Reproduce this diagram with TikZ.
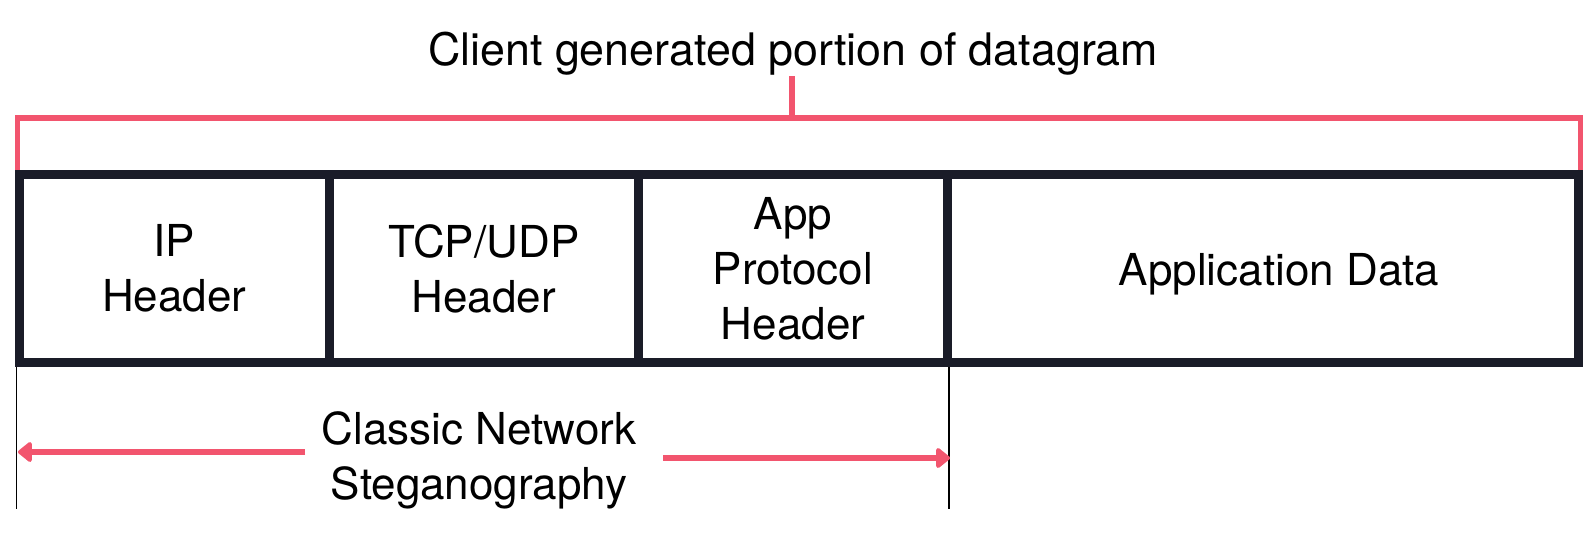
\documentclass[tikz,border=0pt]{standalone}
\usepackage{fontspec}
\setmainfont{TeX Gyre Heros}
\usetikzlibrary{arrows.meta}
\definecolor{pinkc}{RGB}{242,85,110}
\definecolor{darkc}{RGB}{26,28,40}
\begin{document}
\begin{tikzpicture}[x=0.5pt,y=-0.5pt,
  txt/.style={font=\fontsize{22}{27.5}\selectfont, align=center, inner sep=0pt},
  cell/.style={draw=darkc, line width=4.5pt, minimum height=94pt, inner sep=0pt, outer sep=0pt,
    font=\fontsize{22}{27.5}\selectfont, align=center},
  brk/.style={draw=pinkc, line width=2.75pt},
  arr/.style={draw=pinkc, line width=3pt, -{Triangle[length=7.5pt,width=11.5pt,round]}},
  guide/.style={draw=black, line width=0.85pt}]
\fill[white] (0,0) rectangle (1596,558);
% cells
\node[cell, minimum width=154.75pt] (ip)   at (174.25,268.5) {IP\\Header};
\node[cell, minimum width=154.75pt] (tcp)  at (483.75,268.5) {TCP/UDP\\Header};
\node[cell, minimum width=154.5pt]  (app)  at (793,268.5)    {App\\Protocol\\Header};
\node[cell, minimum width=315.5pt]  (data) at (1263,268.5)   {};
\node[txt, anchor=base] (datatxt) at (1279,285) {Application Data};
% title and bracket
\node[txt, anchor=base] (title) at (793,65) {\fontsize{22.4}{27.5}\selectfont Client generated portion of datagram};
\coordinate (stemtop) at (792,76);
\coordinate (stembot) at (792,118);
\draw[brk] (17.5,170) -- (17.5,118) -- (1580.5,118) -- (1580.5,170);
\draw[brk] (stembot) -- (stemtop);
% guides
\coordinate (gl1) at (16.5,367);
\coordinate (gl2) at (16.5,509);
\coordinate (gr1) at (949,367);
\coordinate (gr2) at (949,509);
\draw[guide] (gl1) -- (gl2);
\draw[guide] (gr1) -- (gr2);
% classic network steganography
\node[txt] (cns) at (479,460) {Classic Network\\Steganography};
\coordinate (ls) at (305,452);
\coordinate (lt) at (18,452);
\coordinate (rs) at (663,458);
\coordinate (rt) at (950,458);
\draw[arr] (ls) -- (lt);
\draw[arr] (rs) -- (rt);
\end{tikzpicture}
\end{document}
